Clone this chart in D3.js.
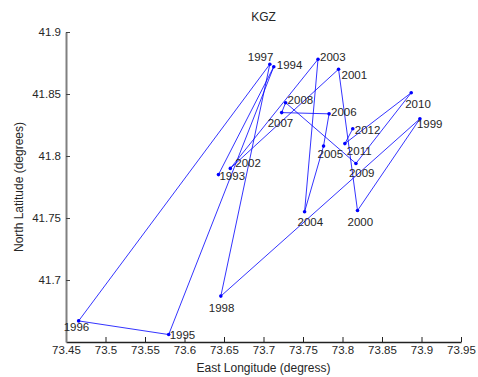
<!DOCTYPE html>
<html>
<head>
<meta charset="utf-8">
<script src="https://cdn.jsdelivr.net/npm/d3@7"></script>
<style>
  html, body { margin: 0; padding: 0; background: #fff; }
  svg { display: block; font-family: "Liberation Sans", Arial, sans-serif; }
</style>
</head>
<body>
<svg id="chart" width="478" height="377"></svg>
<script>
// Yearly centre positions (longitude, latitude) for KGZ
const years = [1993, 1994, 1995, 1996, 1997, 1998, 1999, 2000, 2001, 2002,
               2003, 2004, 2005, 2006, 2007, 2008, 2009, 2010, 2011, 2012];
const longitudes = [73.643, 73.713, 73.580, 73.466, 73.708, 73.646, 73.898, 73.819, 73.795, 73.658,
                    73.769, 73.752, 73.776, 73.783, 73.723, 73.728, 73.817, 73.887, 73.803, 73.813];
const latitudes = [41.785, 41.872, 41.656, 41.667, 41.874, 41.687, 41.830, 41.756, 41.870, 41.790,
                   41.878, 41.755, 41.808, 41.834, 41.835, 41.843, 41.794, 41.851, 41.810, 41.822];

const xTicks = [73.45, 73.5, 73.55, 73.6, 73.65, 73.7, 73.75, 73.8, 73.85, 73.9, 73.95];
const yTicks = [41.7, 41.75, 41.8, 41.85, 41.9];

// Year-label placement relative to each point: [left edge dx, vertical centre dy]
const labelOffsets = [[1, 1], [3, -2], [1, 0], [-15, 6], [-22, -7], [-12, 12], [-3, 5], [-10, 11], [3, 6], [5, -5],
                      [2, -2], [-7, 10], [-6, 8], [2, -2], [-14, 10], [2, -3], [-7, 10], [-6, 11], [2, 7], [2, 1]];

const W = 478, H = 377;
const margin = { left: 66, right: 17, top: 32, bottom: 35 };
const svg = d3.select("#chart");

const x = d3.scaleLinear().domain([73.45, 73.95]).range([margin.left, W - margin.right]);
const y = d3.scaleLinear().domain([41.65, 41.9]).range([H - margin.bottom, margin.top]);

const textColor = "#262626";

// Bottom axis with inward ticks
const xAxis = d3.axisBottom(x).tickValues(xTicks).tickSizeInner(-5).tickSizeOuter(0)
  .tickPadding(4).tickFormat(d => d3.format("")(+d.toFixed(2)));
const gx = svg.append("g").attr("transform", `translate(0,${H - margin.bottom})`).call(xAxis);
gx.select(".domain").attr("stroke", "#222").attr("stroke-width", 1.5);
gx.selectAll(".tick line").attr("stroke", "#222");
gx.selectAll(".tick text").attr("fill", textColor).attr("font-size", 11.5)
  .attr("font-family", "Liberation Sans, Arial, sans-serif");

// Left axis with inward ticks
const yAxis = d3.axisLeft(y).tickValues(yTicks).tickSizeInner(-4).tickSizeOuter(0)
  .tickPadding(5).tickFormat(d => d3.format("")(+d.toFixed(2)));
const gy = svg.append("g").attr("transform", `translate(${margin.left},0)`).call(yAxis);
gy.select(".domain").attr("stroke", "#808080").attr("stroke-width", 2);
gy.selectAll(".tick line").attr("stroke", "#444");
gy.selectAll(".tick text").attr("fill", textColor).attr("font-size", 11.5)
  .attr("font-family", "Liberation Sans, Arial, sans-serif");

const points = years.map((yr, i) => ({ year: yr, lon: longitudes[i], lat: latitudes[i], off: labelOffsets[i] }));

// Trajectory through the years
const line = d3.line().x(d => x(d.lon)).y(d => y(d.lat));
svg.append("path").datum(points)
  .attr("d", line)
  .attr("fill", "none")
  .attr("stroke", "#0000ff")
  .attr("stroke-width", 0.8);

// Point markers
svg.append("g").selectAll("circle").data(points).join("circle")
  .attr("cx", d => x(d.lon))
  .attr("cy", d => y(d.lat))
  .attr("r", 1.8)
  .attr("fill", "#0000ff");

// Year labels
svg.append("g").selectAll("text").data(points).join("text")
  .attr("x", d => x(d.lon) + d.off[0])
  .attr("y", d => y(d.lat) + d.off[1])
  .attr("dominant-baseline", "central")
  .attr("font-size", 11.5)
  .attr("fill", textColor)
  .text(d => d.year);

// Title and axis titles
svg.append("text")
  .attr("x", (margin.left + W - margin.right) / 2).attr("y", 17)
  .attr("text-anchor", "middle").attr("dominant-baseline", "central")
  .attr("font-size", 12).attr("fill", textColor)
  .text("KGZ");

svg.append("text")
  .attr("x", (margin.left + W - margin.right) / 2).attr("y", 368)
  .attr("text-anchor", "middle").attr("dominant-baseline", "central")
  .attr("font-size", 12).attr("fill", textColor)
  .text("East Longitude (degress)");

svg.append("text")
  .attr("transform", `translate(19,${(margin.top + H - margin.bottom) / 2}) rotate(-90)`)
  .attr("text-anchor", "middle").attr("dominant-baseline", "central")
  .attr("font-size", 12).attr("fill", textColor)
  .text("North Latitude (degrees)");
</script>
</body>
</html>
